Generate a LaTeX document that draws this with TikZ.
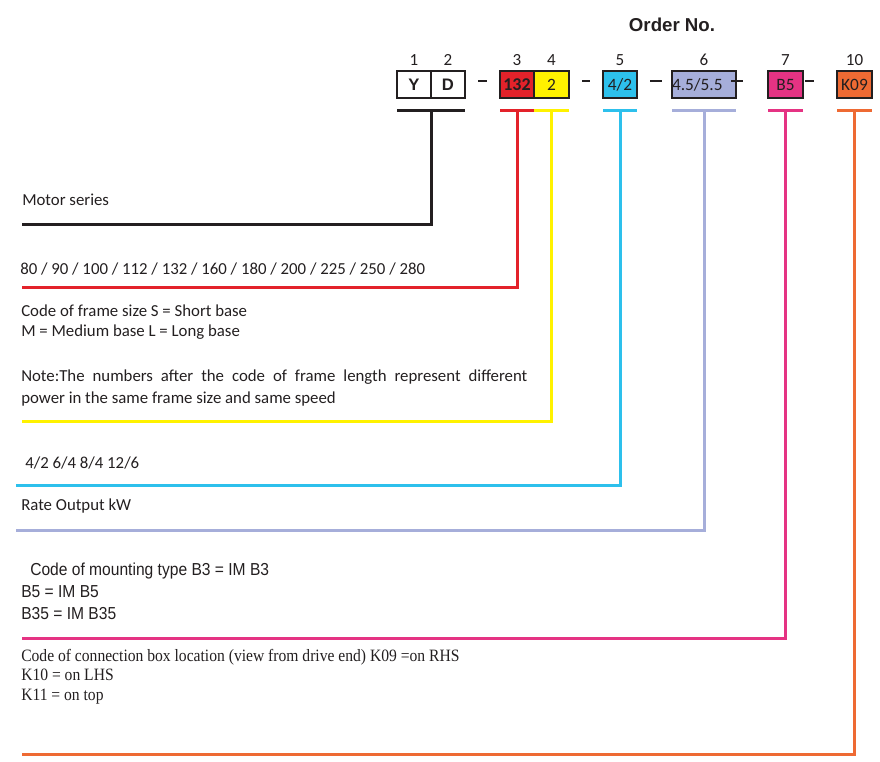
\documentclass[tikz,border=0pt]{standalone}
\usepackage{fontspec}
\setmainfont{Carlito}
\newfontfamily\arialfont{Liberation Sans}
\newfontfamily\narrowsans[FakeStretch=0.9]{Liberation Sans}
\newfontfamily\narrowserif[FakeStretch=0.9]{Liberation Serif}
\usetikzlibrary{positioning}
\definecolor{ink}{HTML}{231F20}
\definecolor{cred}{HTML}{E3222A}
\definecolor{cyellow}{HTML}{FFF200}
\definecolor{ccyan}{HTML}{2DC0EC}
\definecolor{clav}{HTML}{A6AEDA}
\definecolor{cpink}{HTML}{E53383}
\definecolor{corange}{HTML}{EE6A33}
\begin{document}
\begin{tikzpicture}[x=0.75pt,y=-0.75pt,
    codebox/.style={draw=ink,line width=1.5pt,outer sep=0pt,inner sep=0pt,
      minimum height=20.25pt,minimum width=25.5pt,text=ink,font=\fontsize{13}{15}\selectfont},
    lead/.style={line width=2.25pt},
    desc/.style={anchor=base west,inner sep=0pt,text=ink,font=\fontsize{12.6}{15}\selectfont}]
  \useasboundingbox (0,0) rectangle (880,761);
  % title
  \node[text=ink,font=\arialfont\bfseries\fontsize{14}{16}\selectfont] (title) at (672,25) {Order No.};
  % code boxes
  \node[codebox,font=\arialfont\bfseries\fontsize{12.5}{14}\selectfont] (Y) at (414,84.5) {Y};
  \node[codebox,font=\arialfont\bfseries\fontsize{12.5}{14}\selectfont,right=0pt of Y] (D) {D};
  \node[codebox,fill=cred,font=\bfseries\fontsize{13.5}{15}\selectfont] (F) at (517,84.5) {132};
  \node[codebox,fill=cyellow,minimum width=26.25pt,right=0pt of F] (P) {2};
  \node[codebox,fill=ccyan] (S) at (620,84.5) {4/2};
  \node[codebox,fill=clav,minimum width=48pt,text width=48pt,align=left] (O) at (704,84.5) {4.5/5.5};
  \node[codebox,fill=cpink,minimum width=26.25pt] (M) at (785.5,84.5) {B5};
  \node[codebox,fill=corange,minimum width=26.25pt] (K) at (854.5,84.5) {K09};
  % position numbers
  \foreach \n/\b in {1/Y,2/D,3/F,4/P,5/S,6/O,7/M,10/K}{%
    \node[anchor=base,inner sep=0pt,text=ink,font=\fontsize{12.75}{15}\selectfont] (num\n) at ([yshift=4.5pt]\b.north) {\n};}
  % separating dashes
  \foreach \xa/\xb in {478/487,582/590,650/662,731/743,805/814}{%
    \draw[ink,line width=0.9pt] (\xa,81) -- (\xb,81);}
  % bars and leads
  \coordinate (eY) at (22,224);
  \draw[lead,ink] ([yshift=-9pt]Y.south west) -- ([yshift=-9pt]D.south east);
  \draw[lead,ink] ([yshift=-9pt]Y.south east) -- (Y.south east |- eY) -- (eY);
  \foreach \b/\c/\xx/\yy in {F/cred/22/287,P/cyellow/22/421,S/ccyan/16/485,O/clav/16/530,M/cpink/22/638,K/corange/22/754}{%
    \coordinate (e\b) at (\xx,\yy);
    \draw[lead,\c] ([yshift=-9pt]\b.south west) -- ([yshift=-9pt]\b.south east);
    \draw[lead,\c] ([yshift=-9pt]\b.south) -- (\b.south |- e\b) -- (e\b);}
  % descriptions
  \node[desc] (series) at (22,205) {Motor series};
  \node[desc] (frames) at (20,274) {80 / 90 / 100 / 112 / 132 / 160 / 180 / 200 / 225 / 250 / 280};
  \node[desc] (size1) at (21,316) {Code of frame size S = Short base};
  \node[desc] (size2) at (21,336) {M = Medium base L = Long base};
  \node[desc,text width=379.5pt,align=justify,font=\fontsize{12.6}{16.5}\selectfont] (power) at (21,381)
    {Note:The numbers after the code of frame length represent different\linebreak power in the same frame size and same speed};
  \node[desc] (poles) at (25,468) {4/2 6/4 8/4 12/6};
  \node[desc] (output) at (21,510) {Rate Output kW};
  \node[desc,font=\narrowsans\fontsize{13}{15}\selectfont] (mount1) at (30,575) {Code of mounting type B3 = IM B3};
  \node[desc,font=\narrowsans\fontsize{13}{15}\selectfont] (mount2) at (21,597) {B5 = IM B5};
  \node[desc,font=\narrowsans\fontsize{13}{15}\selectfont] (mount3) at (21,619) {B35 = IM B35};
  \node[desc,font=\narrowserif\fontsize{13}{15}\selectfont] (box1) at (21,661) {Code of connection box location (view from drive end) K09 =on RHS};
  \node[desc,font=\narrowserif\fontsize{13}{15}\selectfont] (box2) at (21,680) {K10 = on LHS};
  \node[desc,font=\narrowserif\fontsize{13}{15}\selectfont] (box3) at (21,700) {K11 = on top};
\end{tikzpicture}
\end{document}
